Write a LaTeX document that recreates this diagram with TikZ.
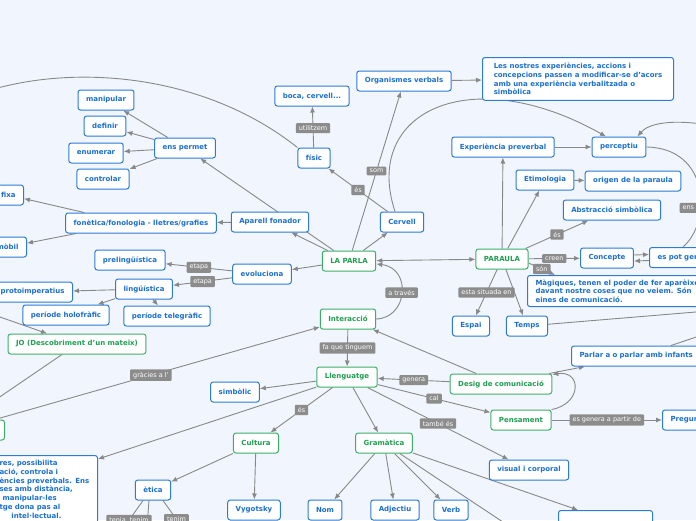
\documentclass[tikz,border=0pt]{standalone}
\usepackage{fontspec}
\setmainfont{DejaVu Sans}
\usetikzlibrary{arrows.meta}
\definecolor{bgcol}{HTML}{F1F5FD}
\definecolor{bblue}{HTML}{2C7BD6}
\definecolor{tblue}{HTML}{1A6FD1}
\definecolor{bgreen}{HTML}{3DAE68}
\definecolor{tgreen}{HTML}{1F9E52}
\definecolor{lgray}{HTML}{888888}
\definecolor{lblgray}{HTML}{8C8C8C}
\pgfdeclarelayer{edges}
\pgfsetlayers{edges,main}

\begin{document}
\begin{tikzpicture}[x=1pt,y=-1pt,line cap=round,line join=round,>={Latex[length=6pt,width=5pt]},
  bnode/.style={draw=bblue,line width=1pt,fill=white,rounded corners=2.5pt,text=tblue,
    font=\bfseries\fontsize{7}{8.7}\selectfont,inner xsep=8pt,inner ysep=3pt,minimum height=20pt},
  gnode/.style={bnode,draw=bgreen,text=tgreen},
  lbl/.style={fill=lblgray,text=white,font=\fontsize{6.5}{7}\selectfont,
    inner xsep=3pt,inner ysep=2.5pt,rounded corners=1pt},
  conn/.style={draw=lgray,line width=0.9pt,->},
  link/.style={draw=lgray,line width=0.9pt}]
  \useasboundingbox (0,0) rectangle (696,520);
  \clip (0,0) rectangle (696,520);
  % top
  \node[bnode] (orgv) at (404,81) {Organismes verbals};
  \node[bnode,anchor=north west,align=left,inner ysep=5.5pt,minimum width=191pt] (nostres) at (482,57)
    {Les nostres experiències, accions i\\concepcions passen a modificar-se d'acors\\amb una experiència verbalitzada o\\simbòlica};
  \node[bnode] (boca) at (312,96) {boca, cervell...};
  \node[bnode] (fisic) at (314,158) {físic};
  \node[bnode] (cervell) at (402,222) {Cervell};
  % left branch
  \node[bnode] (manip) at (106,100) {manipular};
  \node[bnode] (definir) at (105,126) {definir};
  \node[bnode] (enumerar) at (96,153) {enumerar};
  \node[bnode] (controlar) at (103,179) {controlar};
  \node[bnode] (enspermet) at (185,148) {ens permet};
  \node[bnode,anchor=east] (fixa) at (24,195) {fixa};
  \node[bnode] (fonetica) at (141,223) {fonètica/fonologia - lletres/grafies};
  \node[bnode] (aparell) at (270,222) {Aparell fonador};
  \node[bnode,anchor=east] (mobil) at (27,247) {mòbil};
  \node[gnode] (laparla) at (349,261) {LA PARLA};
  \node[bnode] (evol) at (262,274) {evoluciona};
  \node[bnode] (preling) at (130,260) {prelingüística};
  \node[bnode] (ling) at (144,289) {lingüística};
  \node[bnode,anchor=east] (proto) at (73,292) {protoimperatius};
  \node[bnode] (holo) at (66,315) {període holofràfic};
  \node[bnode] (teleg) at (167,316) {període telegràfic};
  % middle
  \node[gnode] (interac) at (348,319) {Interacció};
  \node[gnode] (jo) at (77,344) {JO (Descobriment d'un mateix)};
  \node[gnode,anchor=east,minimum width=40pt] (leftg) at (5,430) {};
  \node[gnode] (lleng) at (347,377) {Llenguatge};
  \node[bnode] (simb) at (235,392) {simbòlic};
  \node[gnode] (desig) at (501,384) {Desig de comunicació};
  \node[gnode] (pens) at (521,420) {Pensament};
  \node[bnode,anchor=west,text width=40pt] (pregun) at (662,420) {Pregun};
  \node[bnode,anchor=north east,text width=90pt,align=left,inner ysep=5pt] (bigtext) at (98,455)
    {res, possibilita\\ació, controla i\\ències preverbals. Ens\\ses amb distància,\\\hspace*{3pt}manipular-les\\tge dona pas al\\\hspace*{12pt}intel·lectual.};
  % bottom
  \node[gnode] (cultura) at (256,443) {Cultura};
  \node[gnode] (gram) at (384,443) {Gramàtica};
  \node[bnode] (visual) at (529,470) {visual i corporal};
  \node[bnode] (etica) at (153,490) {ètica};
  \node[bnode] (vyg) at (254,510) {Vygotsky};
  \node[bnode] (nom) at (325,510) {Nom};
  \node[bnode] (adj) at (395,510) {Adjectiu};
  \node[bnode] (verb) at (451,510) {Verb};
  \node[bnode,anchor=north west,minimum width=94pt] (analisi) at (558,510) {};
  % right
  \node[bnode] (exper) at (503,147) {Experiència preverbal};
  \node[bnode] (perceptiu) at (619,147) {perceptiu};
  \node[bnode] (etim) at (545,180) {Etimologia};
  \node[bnode] (origen) at (633,181) {origen de la paraula};
  \node[bnode] (abstr) at (612,210) {Abstracció simbòlica};
  \node[gnode] (paraula) at (502,259) {PARAULA};
  \node[bnode] (concepte) at (607,258) {Concepte};
  \node[bnode,anchor=west,text width=48pt] (espot) at (649,257.5) {es pot gen};
  \node[bnode,anchor=north west,align=left,inner ysep=4pt] (magiq) at (527,275)
    {Màgiques, tenen el poder de fer aparèixer\\davant nostre coses que no veiem. Són\\eines de comunicació.};
  \node[bnode] (espai) at (471,326) {Espai};
  \node[bnode] (temps) at (527,326) {Temps};
  \node[bnode,anchor=west,text width=133pt] (parlar) at (571,356) {Parlar a o parlar amb infants};

  \begin{pgfonlayer}{edges}
    \fill[bgcol] (0,0) rectangle (696,520);
    \clip (0,0) rectangle (696,520);
    % free ends off the page
    \coordinate (offA) at (-30,97);
    \coordinate (offB) at (-20,310);
    \coordinate (offC) at (-15,407);
    \coordinate (offD) at (715,126);
    \coordinate (offE) at (720,310);
    \coordinate (offF) at (720,329);
    \coordinate (offG) at (530,540);
    \coordinate (offH) at (115,540);
    \coordinate (offI) at (146,540);
    \coordinate (offJ) at (195,545);
    % LA PARLA
    \draw[conn] (laparla) -- (aparell);
    \draw[conn] (laparla) -- (enspermet);
    \draw[conn] (laparla) -- (cervell);
    \draw[conn] (laparla) -- node[lbl] {som} (orgv);
    \draw[conn] (laparla) -- (evol);
    \draw[<->,draw=lgray,line width=0.9pt] (laparla) -- (paraula);
    \draw[conn] (cervell) -- node[lbl] {és} (fisic);
    \draw[conn] (fisic) -- node[lbl,pos=0.47] {utilitzem} (boca);
    \draw[conn] ([xshift=-7pt]cervell.north) .. controls (362,112) and (470,60) .. ([xshift=-13pt]perceptiu.north);
    \draw[link] (fisic.north west) .. controls (200,70) and (60,62) .. (offA);
    \draw[conn] (orgv) -- (nostres);
    \draw[conn] (aparell) -- (fonetica);
    \draw[conn] ([xshift=19pt]fonetica.north west) -- (fixa);
    \draw[conn] ([xshift=11pt]fonetica.south west) -- (mobil);
    \draw[conn] (enspermet) -- (manip);
    \draw[conn] (enspermet) -- (definir);
    \draw[conn] (enspermet) -- (enumerar);
    \draw[conn] (enspermet) -- (controlar);
    \draw[conn] (evol) -- node[lbl] {etapa} (preling);
    \draw[conn] (evol) -- node[lbl] {etapa} (ling);
    \draw[conn] (ling) -- (proto);
    \draw[conn] (ling) -- (holo);
    \draw[conn] (ling) -- (teleg);
    % Interacció
    \draw[conn] (offB) -- (jo);
    \draw[conn] ([xshift=-15pt]jo.south) -- (offC);
    \draw[conn] ([xshift=-10pt]leftg.north east) -- node[lbl,pos=0.48] {gràcies a l'} (interac);
    \draw[conn] (interac.east) .. controls (408,318) and (412,268) .. node[lbl] {a través} ([yshift=-3pt]laparla.east);
    \draw[conn] (interac) -- node[lbl] {fa que tinguem} (lleng);
    \draw[conn] (desig) -- (interac);
    % Llenguatge
    \draw[conn] (desig) -- node[lbl] {genera} (lleng);
    \draw[conn] (lleng) -- node[lbl] {cal} (pens);
    \draw[conn] (lleng) -- node[lbl] {també és} (visual);
    \draw[conn] (lleng) -- (simb);
    \draw[conn] (lleng) -- node[lbl] {és} (cultura);
    \draw[conn] (lleng) -- (gram);
    \draw[conn] (lleng) -- ([yshift=-4pt]bigtext.north east);
    \draw[conn] ([xshift=-3pt]desig.north east) -- ([xshift=14pt]parlar.south west);
    \draw[conn] (pens.north east) .. controls (582,404) and (582,370) .. ([yshift=-1pt]desig.north east);
    \draw[conn] (pens) -- node[lbl] {es genera a partir de} (pregun);
    \draw[link] ([xshift=-50pt]parlar.north east) -- (offF);
    % PARAULA
    \draw[conn] (paraula) -- (exper);
    \draw[conn] (paraula) -- (etim);
    \draw[conn] (paraula) -- node[lbl] {és} (abstr);
    \draw[conn] (paraula) -- node[lbl] {creen} (concepte);
    \draw[conn] ([yshift=-4pt]paraula.east) -- node[lbl] {són} ([xshift=28pt]magiq.north west);
    \draw[conn] (paraula) -- node[lbl] {esta situada en} (espai);
    \draw[conn] (paraula) -- (temps);
    \draw[link] (temps) -- (offE);
    \draw[conn] (exper) -- (perceptiu);
    \draw[conn] (etim) -- (origen);
    \draw[conn] ([yshift=3pt]concepte.east) -- ([yshift=3pt]espot.west);
    \draw[conn] ([yshift=-3pt]espot.west) -- ([yshift=-3pt]concepte.east);
    \draw[link] (perceptiu.east) .. controls (710,148) and (712,222) .. node[lbl,pos=0.65] {ens genera} ([xshift=34pt]espot.north west);
    \draw[conn] (offD) .. controls (670,118) and (648,124) .. ([xshift=-9pt]perceptiu.north east);
    % Cultura, Gramàtica
    \draw[conn] (cultura) -- (etica);
    \draw[conn] (cultura) -- (vyg);
    \draw[link] ([xshift=-4pt]etica.south) -- (offI);
    \draw[link] ([xshift=-10pt]etica.south) -- node[lbl] {tenia, tenim} (offH);
    \draw[link] ([xshift=10pt]etica.south) -- node[lbl,pos=0.42] {tenim} (offJ);
    \draw[conn] (gram) -- (nom);
    \draw[conn] (gram) -- (adj);
    \draw[conn] (gram) -- (verb);
    \draw[link] (gram) -- (offG);
    \draw[conn] (gram) -- ([xshift=20pt]analisi.north west);
  \end{pgfonlayer}
\end{tikzpicture}
\end{document}
